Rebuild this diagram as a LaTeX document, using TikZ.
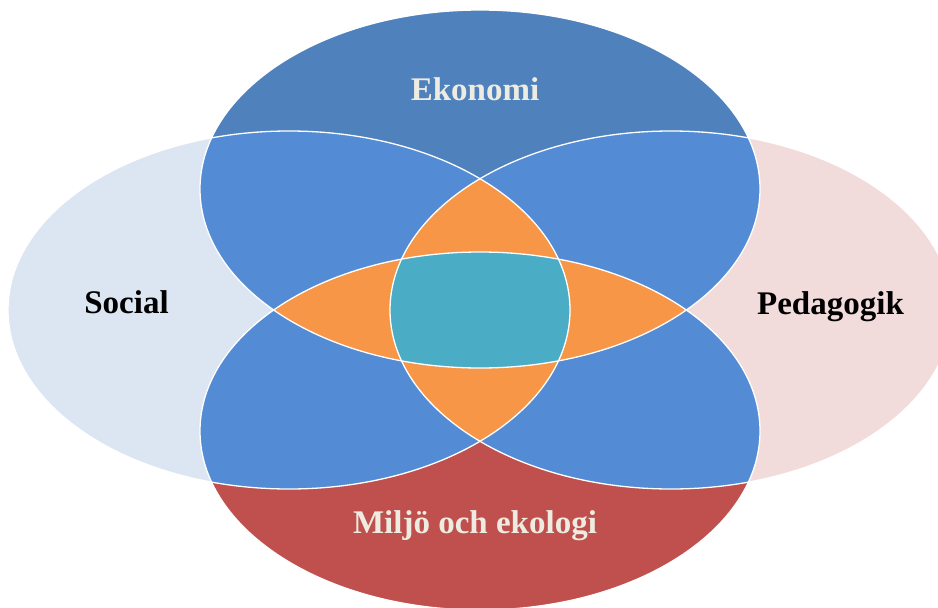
\documentclass[tikz,border=0pt]{standalone}
\usepackage{fontspec}
\setmainfont{Liberation Serif}
\definecolor{topc}{HTML}{4F81BD}
\definecolor{botc}{HTML}{C0504D}
\definecolor{leftc}{HTML}{DCE6F2}
\definecolor{rightc}{HTML}{F2DCDB}
\definecolor{twoc}{HTML}{538CD4}
\definecolor{threec}{HTML}{F79646}
\definecolor{fourc}{HTML}{4AACC5}
\definecolor{lighttext}{HTML}{EEECE1}
\begin{document}
\begin{tikzpicture}[x=1pt,y=-1pt,
  lbl/.style={font=\fontsize{33}{37}\selectfont\bfseries, anchor=base, inner sep=0pt},
  edge/.style={draw=white, line width=1.3pt}]
\useasboundingbox (0,0) rectangle (938,608);
\clip (0,0) rectangle (938,608);
\def\pT{(480,189) ellipse [x radius=280pt, y radius=179pt]}
\def\pB{(480,431) ellipse [x radius=280pt, y radius=179pt]}
\def\pL{(289,310) ellipse [x radius=281pt, y radius=179pt]}
\def\pR{(671,310) ellipse [x radius=281pt, y radius=179pt]}
% single sets
\fill[leftc] \pL;
\fill[rightc] \pR;
\fill[topc] \pT;
\fill[botc] \pB;
% pairwise overlaps
\begin{scope}\clip \pT; \fill[twoc] \pL; \fill[twoc] \pR; \end{scope}
\begin{scope}\clip \pB; \fill[twoc] \pL; \fill[twoc] \pR; \end{scope}
% triple overlaps
\begin{scope}\clip \pL; \clip \pR; \fill[threec] \pT; \fill[threec] \pB; \end{scope}
\begin{scope}\clip \pT; \clip \pB; \fill[threec] \pL; \fill[threec] \pR; \end{scope}
% quadruple overlap
\begin{scope}\clip \pT; \clip \pB; \clip \pL; \fill[fourc] \pR; \end{scope}
% outlines
\draw[edge] \pT;
\draw[edge] \pB;
\draw[edge] \pL;
\draw[edge] \pR;
% labels
\node[lbl, text=lighttext] (ekonomi) at (475,100) {Ekonomi};
\node[lbl, text=lighttext] (miljo) at (475,533) {Miljö och ekologi};
\node[lbl, text=black] (social) at (126.5,313) {Social};
\node[lbl, text=black] (pedagogik) at (830.5,314) {Pedagogik};
\end{tikzpicture}
\end{document}
